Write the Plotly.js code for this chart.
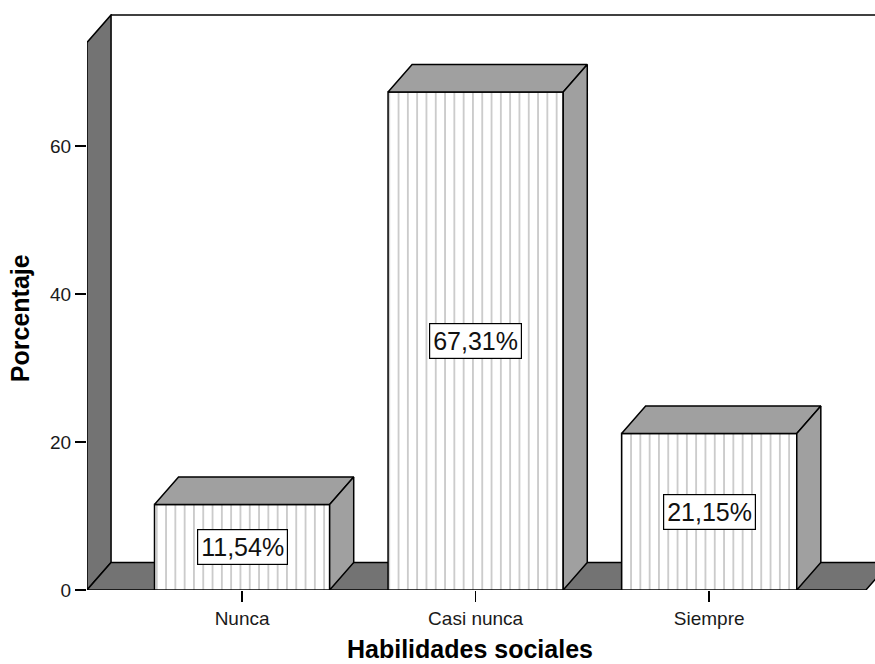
<!DOCTYPE html>
<html>
<head>
<meta charset="utf-8">
<script src="https://cdn.plot.ly/plotly-3.0.1.min.js"></script>
<style>html,body{margin:0;padding:0;background:#fff;}#chart{width:875px;height:664px;}</style>
</head>
<body>
<div id="chart"></div>
<script>
// ---- data ----
var categories = ["Nunca", "Casi nunca", "Siempre"];
var percentages = [11.54, 67.31, 21.15];
var yTickValues = [0, 20, 40, 60];
var xAxisTitle = "Habilidades sociales";
var yAxisTitle = "Porcentaje";

// ---- style / geometry constants ----
var barWidth = 0.75;     // category units
var depthX = 0.103;      // 3D depth offset in x units
var depthY = 3.72;       // 3D depth offset in y units
var wallTop = 74;        // height of the left wall (front edge)
var xMin = -0.664, xMax = 2.71;
var yMin = 0, yMax = 77.84;
var floorRight = 2.671;
var dark = "#737373", light = "#a0a0a0";

var xIdx = categories.map(function (c, i) { return i; });

// top and side faces of the bars
var topX = [], topY = [], sideX = [], sideY = [];
xIdx.forEach(function (i) {
  var xl = i - barWidth / 2, xr = i + barWidth / 2, v = percentages[i];
  topX.push(xl, xl + depthX, xr + depthX, xr, xl, null);
  topY.push(v, v + depthY, v + depthY, v, v, null);
  sideX.push(xr, xr, xr + depthX, xr + depthX, xr, null);
  sideY.push(0, v, v + depthY, depthY, 0, null);
});

var traces = [
  {
    type: "bar", x: xIdx, y: percentages, width: barWidth,
    marker: {
      color: "#ffffff",
      line: { color: "#000", width: 1.5 },
      pattern: { shape: "|", size: 9.3, solidity: 0.13, fgcolor: "#b0b0b0", bgcolor: "#ffffff" }
    },
    hoverinfo: "skip", showlegend: false
  },
  {
    type: "scatter", mode: "lines", x: topX, y: topY, fill: "toself",
    fillcolor: light, line: { color: "#000", width: 1.5 }, hoverinfo: "skip", showlegend: false
  },
  {
    type: "scatter", mode: "lines", x: sideX, y: sideY, fill: "toself",
    fillcolor: light, line: { color: "#000", width: 1.5 }, hoverinfo: "skip", showlegend: false
  }
];

function P(pts) {
  return "M" + pts.map(function (p) { return p[0] + "," + p[1]; }).join(" L") + " Z";
}

var x0 = xMin;
var shapes = [
  // back wall top line
  { type: "line", layer: "below", xref: "x", yref: "y", x0: x0 + depthX, x1: xMax + 1, y0: wallTop + depthY, y1: wallTop + depthY, line: { color: "#000", width: 1.5 } },
  // left wall
  { type: "path", layer: "below", xref: "x", yref: "y",
    path: P([[x0, 0], [x0, wallTop], [x0 + depthX, wallTop + depthY], [x0 + depthX, depthY]]),
    fillcolor: dark, line: { color: "#000", width: 1.5 } },
  // floor
  { type: "path", layer: "below", xref: "x", yref: "y",
    path: P([[x0, 0], [x0 + depthX, depthY], [floorRight + depthX, depthY], [floorRight, 0]]),
    fillcolor: dark, line: { color: "#000", width: 1.5 } }
];

var annotations = xIdx.map(function (i) {
  return {
    x: i, y: percentages[i] / 2, xref: "x", yref: "y", showarrow: false,
    text: percentages[i].toFixed(2).replace(".", ",") + "%",
    font: { family: "Liberation Sans, Arial, sans-serif", size: 25, color: "#111" },
    bgcolor: "#ffffff", bordercolor: "#000", borderwidth: 1.2, borderpad: 3
  };
});
annotations.push({
  xref: "paper", yref: "paper", x: 0.486, y: -0.1285, xanchor: "center", yanchor: "bottom",
  showarrow: false, text: "<b>" + xAxisTitle + "</b>", borderpad: 0,
  font: { family: "Liberation Sans, Arial, sans-serif", size: 25, color: "#000" }
});
annotations.push({
  xref: "paper", yref: "paper", x: -0.085, y: 0.472, xanchor: "center", yanchor: "middle",
  showarrow: false, textangle: -90, text: "<b>" + yAxisTitle + "</b>",
  font: { family: "Liberation Sans, Arial, sans-serif", size: 25, color: "#000" }
});

var layout = {
  width: 875, height: 664,
  margin: { l: 87, r: 0, t: 14, b: 74, pad: 0 },
  paper_bgcolor: "#fff", plot_bgcolor: "#fff",
  showlegend: false,
  font: { family: "Liberation Sans, Arial, sans-serif", size: 19, color: "#1a1a1a" },
  xaxis: {
    range: [xMin, xMax], tickvals: xIdx, ticktext: categories,
    ticks: "outside", ticklen: 11, tickwidth: 1.5, tickcolor: "#000",
    showgrid: false, zeroline: false, showline: false, fixedrange: true
  },
  yaxis: {
    range: [yMin, yMax], tickvals: yTickValues,
    ticks: "outside", ticklen: 11, tickwidth: 1.5, tickcolor: "#000",
    showgrid: false, zeroline: false, showline: false, fixedrange: true
  },
  shapes: shapes,
  annotations: annotations,
  bargap: 0
};

Plotly.newPlot("chart", traces, layout, { displayModeBar: false, staticPlot: true });
</script>
</body>
</html>
